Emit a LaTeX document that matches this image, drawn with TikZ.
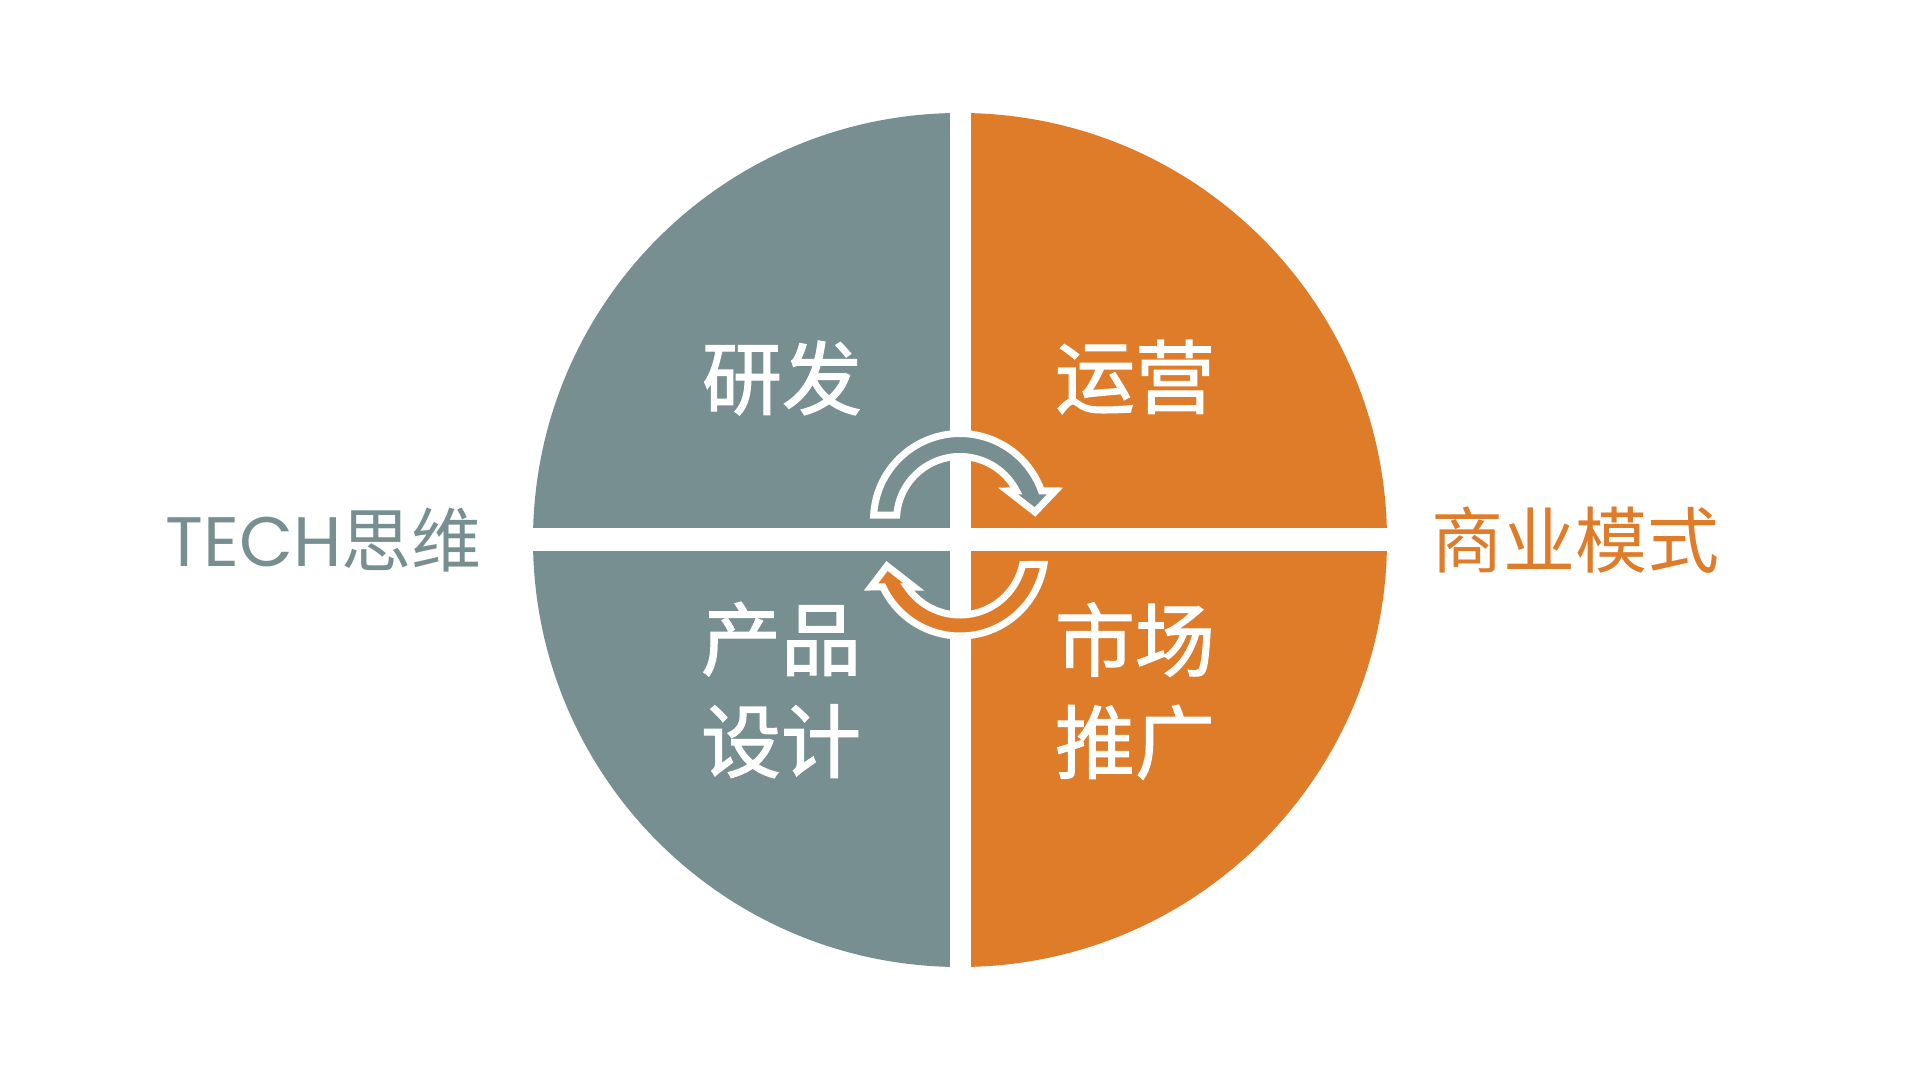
\documentclass[tikz,border=0pt]{standalone}
\usepackage{fontspec}
\setmainfont{Poppins}
\newfontfamily\cjk{Noto Sans CJK SC}
\newfontfamily\cjkmid{Noto Sans CJK SC}[FakeBold=1.5]
\definecolor{techgray}{HTML}{778F91}
\definecolor{bizorange}{HTML}{DE7C2A}
\usetikzlibrary{positioning}

\begin{document}
\begin{tikzpicture}[x=0.5pt,y=0.5pt,
  lbl/.style={text=white, align=center, inner sep=0pt,
              font=\cjkmid\fontsize{40}{51}\selectfont},
  side/.style={inner sep=0pt, font=\fontsize{35}{40}\selectfont},
  ring/.style={draw=white, line width=3.5pt, line join=miter}
]
  \useasboundingbox (-960,-540) rectangle (960,540);

  % two halves and the white cross
  \fill[techgray] (0,427) arc[start angle=90,end angle=270,radius=427] -- cycle;
  \fill[bizorange] (0,-427) arc[start angle=-90,end angle=90,radius=427] -- cycle;
  \fill[white] (-10.5,-440) rectangle (10.5,440);
  \fill[white] (-440,-11.5) rectangle (440,11.5);

  % circular arrows
  \begin{scope}[shift={(0,20)}]
    \filldraw[ring,fill=techgray] (176.7:86.5)
      arc[start angle=176.7,end angle=19.6,radius=86.5]
      -- (95,29) -- (75,8) -- (48,29) -- (27.2:63.5)
      arc[start angle=27.2,end angle=175.5,radius=63.5] -- cycle;
  \end{scope}
  \begin{scope}[shift={(0,-11)}]
    \filldraw[ring,fill=bizorange] (-9.1:85)
      arc[start angle=-9.1,end angle=-155,radius=85]
      -- (-89,-36) -- (-73,-15) -- (-46,-36) -- (-145.8:64)
      arc[start angle=-145.8,end angle=-12.2,radius=64] -- cycle;
  \end{scope}

  \node[lbl] (rd) at (-178,162) {研发};
  \node[lbl] (yy) at (175,163) {运营};
  \node[lbl] (cp) at (-179,-150) {产品\\设计};
  \node[lbl] (sc) at (175,-151) {市场\\推广};

  \node[side,text=techgray,anchor=east] (tech) at (-478,0) {TECH{\cjk 思维}};
  \node[side,text=bizorange,anchor=west] (biz) at (471,0)
    {\cjk\fontsize{36}{40}\selectfont 商业模式};
\end{tikzpicture}
\end{document}
